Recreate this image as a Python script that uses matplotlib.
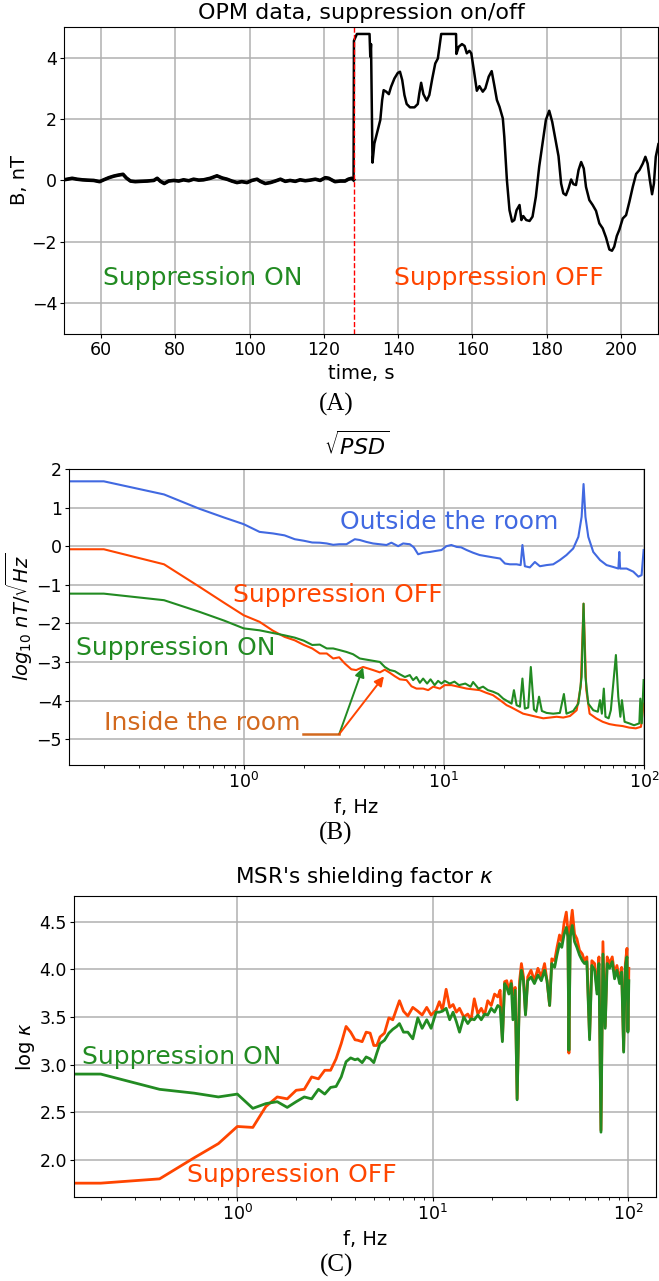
import numpy as np
import matplotlib
matplotlib.use("Agg")
import matplotlib.pyplot as plt

# --- (A) OPM trace, suppression on then off ---
time_s = [50.0, 50.9, 52.2, 53.5, 54.9, 56.2, 58.0, 59.6, 60.7, 62.1, 63.4, 64.5, 65.9, 66.8,
          67.9, 69.2, 70.6, 72.4, 74.2, 75.1, 76.0, 77.0, 78.2, 79.6, 80.9, 82.2, 83.6, 84.9,
          86.3, 87.6, 89.4, 91.2, 92.6, 93.9, 95.2, 96.6, 97.9, 99.3, 100.6, 102.0, 102.9,
          104.2, 105.6, 106.9, 108.3, 109.6, 110.9, 112.3, 113.6, 115.0, 116.3, 117.7, 119.0,
          120.4, 121.3, 122.2, 123.0, 124.4, 125.7, 126.6, 127.5, 128.0,
          128.1, 128.9, 132.3, 132.5, 132.7, 133.1, 133.6, 134.5, 135.2, 135.7, 136.1, 136.8,
          137.5, 138.1, 139.0, 139.9, 140.5, 141.1, 141.7, 142.3, 143.2, 144.4, 145.3, 145.7,
          146.2, 146.8, 147.7, 148.4, 149.2, 150.0, 150.7, 151.6, 155.6, 155.7, 156.3, 157.2,
          157.9, 158.5, 159.2, 159.7, 160.4, 161.2, 161.9, 162.8, 163.5, 164.4, 165.2, 165.9,
          166.6, 167.3, 168.2, 168.6, 169.3, 170.0, 170.7, 171.3, 171.9, 172.7, 173.2, 173.7,
          174.5, 175.4, 176.2, 177.1, 178.0, 178.9, 179.8, 180.7, 181.5, 182.4, 183.2, 183.9,
          184.5, 185.2, 185.9, 186.6, 187.2, 187.9, 188.6, 189.3, 190.0, 190.6, 191.5, 192.4,
          193.3, 194.2, 195.1, 196.0, 196.9, 197.6, 198.2, 198.9, 199.6, 200.5, 201.4, 202.3,
          203.2, 204.1, 205.0, 205.9, 206.6, 207.2, 207.8, 208.4, 208.9, 209.4, 210.1]
field_nT = [0.02, 0.04, 0.07, 0.04, 0.02, 0.01, 0.0, -0.04, 0.02, 0.09, 0.14, 0.17, 0.2, 0.08,
            -0.02, -0.04, -0.03, -0.02, 0.0, 0.07, -0.03, -0.1, -0.02, 0.0, -0.02, 0.02, -0.01,
            0.04, 0.01, 0.02, 0.07, 0.15, 0.08, 0.04, -0.02, -0.07, -0.04, -0.07, 0.0, 0.04,
            -0.03, -0.1, -0.07, -0.02, 0.04, -0.03, 0.0, -0.03, 0.02, -0.01, 0.01, 0.04, 0.0,
            0.09, 0.07, 0.01, -0.04, -0.02, -0.02, 0.04, 0.07, 0.02,
            4.55, 4.77, 4.77, 4.03, 4.44, 0.58, 1.2, 1.64, 1.97, 2.62, 2.94, 2.89,
            2.81, 3.05, 3.32, 3.5, 3.54, 3.27, 2.78, 2.49, 2.38, 2.38, 2.49, 2.83,
            3.18, 2.81, 2.6, 2.78, 3.32, 3.81, 3.97, 4.77, 4.77, 4.12, 4.35, 4.44,
            4.38, 4.14, 4.22, 4.14, 3.59, 2.92, 3.07, 2.89, 3.0, 3.38, 3.56, 3.1,
            2.62, 2.4, 2.02, 1.42, 0.01, -0.97, -1.34, -1.29, -0.97, -0.8, -1.29, -1.16,
            -1.29, -1.32, -1.18, -0.53, 0.45, 1.2, 1.97, 2.27, 1.91, 1.31, 0.79, -0.1,
            -0.42, -0.48, -0.26, 0.03, -0.12, -0.15, 0.34, 0.6, 0.39, -0.21, -0.64, -0.8,
            -0.99, -1.4, -1.56, -1.86, -2.25, -2.29, -2.16, -1.81, -1.6, -1.24, -1.13, -0.69,
            -0.21, 0.21, 0.34, 0.55, 0.77, 0.55, 0.01, -0.45, -0.1, 0.77, 1.18]
switch_time = 128

# --- (B) sqrt(PSD), log10 nT/sqrt(Hz) ---
f_out = [0.1, 0.2, 0.4, 0.6, 0.8, 1.0, 1.2, 1.4, 1.6, 1.8, 2.0, 2.2, 2.4, 2.6, 2.8, 3.0, 3.26,
         3.59, 3.8, 4.1, 4.43, 4.79, 5.17, 5.47, 5.91, 6.26, 6.76, 7.08, 7.44, 7.88, 8.51, 9.19,
         9.73, 10.3, 10.9, 11.6, 12.2, 13.0, 14.0, 15.1, 16.3, 17.6, 19.1, 20.2, 21.4, 23.1,
         24.2, 24.7, 25.4, 26.9, 28.5, 30.2, 32.6, 35.2, 38.0, 41.0, 44.3, 47.0, 48.8, 49.9,
         51.0, 52.7, 55.8, 60.3, 65.0, 70.3, 74.5, 75.3, 76.0, 81.9, 88.4, 93.8, 97.3, 99.6]
psd_out = [1.68, 1.68, 1.34, 0.97, 0.74, 0.57, 0.37, 0.33, 0.28, 0.18, 0.14, 0.095, 0.09, 0.07,
           0.035, 0.05, 0.05, 0.18, 0.16, 0.11, 0.07, 0.05, 0.03, 0.09, 0.0, 0.07, 0.05, -0.03,
           -0.21, -0.17, -0.15, -0.12, -0.10, 0.0, 0.03, -0.02, -0.03, -0.10, -0.17, -0.23,
           -0.26, -0.29, -0.32, -0.45, -0.47, -0.47, -0.49, 0.03, -0.52, -0.55, -0.41, -0.52,
           -0.49, -0.47, -0.36, -0.23, -0.06, 0.24, 0.76, 1.61, 0.76, 0.24, -0.15, -0.36,
           -0.49, -0.54, -0.58, -0.15, -0.58, -0.58, -0.66, -0.79, -0.75, -0.10]

f_off = [0.1, 0.2, 0.4, 0.6, 0.8, 1.0, 1.2, 1.4, 1.6, 1.8, 2.0, 2.2, 2.4, 2.6, 2.8, 3.0, 3.2,
         3.45, 3.65, 3.95, 4.19, 4.43, 4.79, 5.07, 5.37, 5.69, 6.03, 6.51, 6.89, 7.3, 7.88,
         8.35, 8.85, 9.55, 10.1, 10.9, 11.8, 13.0, 14.0, 15.1, 16.3, 17.6, 19.1, 20.6, 21.8,
         23.1, 24.9, 26.9, 29.0, 31.4, 33.9, 36.6, 39.5, 42.7, 46.1, 48.3, 49.9, 51.5, 53.5,
         57.7, 62.2, 67.2, 72.4, 78.1, 84.3, 91.0, 96.6, 99.6]
psd_off = [-0.08, -0.08, -0.47, -1.05, -1.47, -1.79, -1.96, -2.19, -2.35, -2.44, -2.56, -2.65,
           -2.78, -2.78, -2.91, -2.88, -3.04, -3.19, -3.21, -3.13, -3.17, -3.21, -3.27, -3.20,
           -3.28, -3.37, -3.45, -3.47, -3.63, -3.69, -3.69, -3.73, -3.64, -3.69, -3.60, -3.60,
           -3.64, -3.69, -3.71, -3.73, -3.80, -3.86, -3.99, -4.12, -4.18, -4.25, -4.34, -4.38,
           -4.42, -4.46, -4.44, -4.42, -4.44, -4.40, -4.25, -3.64, -1.49, -3.73, -4.34, -4.46,
           -4.55, -4.61, -4.64, -4.66, -4.70, -4.72, -4.68, -4.08]

f_on = [0.1, 0.2, 0.4, 0.6, 0.8, 1.0, 1.2, 1.4, 1.6, 1.8, 2.0, 2.2, 2.4, 2.6, 2.8, 3.0, 3.26,
        3.52, 3.8, 4.1, 4.43, 4.79, 5.07, 5.37, 5.69, 6.03, 6.39, 6.76, 7.02, 7.3, 7.59, 7.88,
        8.25, 8.58, 9.0, 9.36, 9.73, 10.1, 10.7, 11.3, 11.9, 12.8, 13.6, 14.0, 14.9, 15.7,
        16.6, 17.6, 18.7, 19.8, 21.0, 21.8, 22.4, 23.1, 24.0, 24.7, 25.4, 26.4, 27.2, 28.2,
        29.0, 29.9, 30.9, 32.6, 35.2, 38.0, 39.8, 41.0, 44.3, 47.0, 48.8, 49.9, 51.0, 52.7,
        55.8, 58.8, 60.3, 61.6, 63.0, 64.2, 66.6, 68.3, 72.4, 74.4, 76.2, 77.6, 80.0, 84.3,
        89.2, 94.8, 95.9, 97.5, 99.6]
psd_on = [-1.23, -1.23, -1.40, -1.70, -1.93, -2.13, -2.18, -2.25, -2.31, -2.37, -2.45, -2.56,
          -2.55, -2.65, -2.65, -2.69, -2.74, -2.80, -2.91, -2.94, -2.97, -3.00, -3.13, -3.21,
          -3.24, -3.32, -3.39, -3.34, -3.47, -3.39, -3.54, -3.43, -3.56, -3.45, -3.60, -3.49,
          -3.56, -3.49, -3.56, -3.51, -3.60, -3.56, -3.64, -3.52, -3.69, -3.64, -3.73, -3.77,
          -3.83, -3.95, -4.03, -4.08, -3.73, -4.12, -4.16, -3.43, -4.21, -4.18, -3.13, -4.23,
          -4.29, -3.90, -4.27, -4.32, -4.34, -4.32, -3.83, -4.34, -4.27, -4.08, -3.39, -1.49,
          -3.39, -4.08, -4.25, -4.29, -3.99, -4.34, -3.69, -4.42, -4.46, -4.25, -2.82, -3.90,
          -4.42, -3.99, -4.55, -4.59, -4.64, -4.59, -3.95, -4.59, -3.47]

# --- (C) shielding factor, log kappa ---
f_kappa = [0.1, 0.2, 0.4, 0.6, 0.8, 1.0, 1.2, 1.4, 1.6, 1.8, 2.0, 2.2, 2.4, 2.6, 2.8, 3.0, 3.2,
           3.4, 3.6, 3.8, 4.0, 4.13, 4.35, 4.56, 4.78, 4.99, 5.17, 5.37, 5.66, 5.96, 6.24, 6.54,
           6.75, 7.08, 7.45, 7.9, 8.38, 8.82, 9.31, 9.8, 10.4, 10.8, 11.2, 11.7, 12.2, 12.7,
           13.2, 13.7, 14.4, 15.1, 15.7, 16.3, 17.0, 17.7, 18.4, 19.1, 19.9, 20.7, 21.5, 22.1,
           22.7, 23.3, 23.9, 24.5, 25.2, 25.7, 26.4, 27.0, 27.8, 28.4, 29.1, 29.8, 30.6, 31.8,
           33.1, 34.5, 35.9, 37.3, 38.4, 39.6, 40.6, 42.0, 43.2, 44.5, 45.7, 46.9, 48.2, 49.1,
           49.7, 50.5, 51.7, 53.1, 54.6, 56.3, 58.2, 59.7, 61.4, 63.4, 65.1, 67.3, 69.2, 70.8,
           72.5, 74.2, 76.2, 78.0, 80.2, 82.8, 85.1, 87.5, 90.3, 92.5, 94.7, 96.6, 98.5, 99.6,
           100.7]
kappa_off = [1.755, 1.755, 1.80, 2.02, 2.17, 2.35, 2.34, 2.56, 2.66, 2.64, 2.73, 2.74, 2.87,
             2.85, 2.94, 2.94, 3.06, 3.22, 3.40, 3.34, 3.26,
             3.255, 3.24, 3.34, 3.33, 3.20, 3.20, 3.29, 3.33, 3.49, 3.47, 3.59, 3.67, 3.56,
             3.51, 3.60, 3.56, 3.52, 3.60, 3.52, 3.57, 3.66, 3.57, 3.79, 3.60, 3.63, 3.55, 3.59,
             3.50, 3.53, 3.47, 3.69, 3.53, 3.59, 3.52, 3.67, 3.62, 3.74, 3.71, 3.78,
             3.26, 3.87, 3.88, 3.78, 3.88, 3.73, 3.81, 2.64, 3.88, 4.06, 3.92, 3.53, 3.92, 3.99,
             3.88, 4.01, 3.92, 4.06, 3.88, 3.62, 4.11, 4.09, 4.23, 4.36, 4.29, 4.48, 4.60, 4.41,
             3.12, 4.44, 4.62, 4.37, 4.32, 4.20, 4.16, 4.09, 4.13, 3.29, 4.09, 4.06, 3.78, 4.13,
             2.31, 4.29, 3.40, 4.13, 4.06, 4.13, 3.95, 4.04, 3.88, 4.02, 3.15, 4.06, 4.22, 3.36,
             4.01]
kappa_on = [2.90, 2.90, 2.74, 2.70, 2.66, 2.69, 2.54, 2.59, 2.61, 2.55, 2.61, 2.66, 2.64, 2.74,
            2.69, 2.76, 2.77, 2.87, 3.03, 3.07, 3.05,
            3.06, 3.02, 3.08, 3.06, 3.02, 3.12, 3.22, 3.255, 3.33, 3.37, 3.40, 3.43, 3.34, 3.34,
            3.27, 3.49, 3.38, 3.47, 3.38, 3.55, 3.55, 3.56, 3.59, 3.47, 3.55, 3.45, 3.34, 3.50,
            3.43, 3.48, 3.47, 3.52, 3.47, 3.53, 3.52, 3.59, 3.55, 3.62, 3.60,
            3.24, 3.85, 3.81, 3.74, 3.85, 3.47, 3.78, 2.63, 3.81, 3.99, 3.88, 3.52, 3.88, 3.92,
            3.85, 3.94, 3.88, 3.99, 3.88, 3.62, 4.06, 4.02, 4.15, 4.27, 4.23, 4.36, 4.44, 4.34,
            3.15, 4.34, 4.46, 4.29, 4.23, 4.15, 4.09, 4.06, 4.08, 3.26, 4.04, 3.99, 3.74, 4.06,
            2.29, 4.16, 3.38, 4.06, 4.01, 4.08, 3.90, 3.99, 3.85, 3.97, 3.13, 4.02, 4.13, 3.34,
            3.88]

GREEN = 'forestgreen'
RED = 'orangered'
BLUE = 'royalblue'
TXT = 18

plt.rcParams['xtick.labelsize'] = 12.5
plt.rcParams['ytick.labelsize'] = 12.5
plt.rcParams['xtick.major.size'] = 3
plt.rcParams['ytick.major.size'] = 3
plt.rcParams['xtick.minor.size'] = 2
plt.rcParams['xtick.major.pad'] = 2
plt.rcParams['ytick.major.pad'] = 2
plt.rcParams['xtick.minor.pad'] = 2
plt.rcParams['axes.labelsize'] = 14
plt.rcParams['axes.titlesize'] = 16

fig = plt.figure(figsize=(6.59, 12.81), dpi=100)

# (A)
n_on = sum(1 for t in time_s if t <= switch_time)
ax1 = fig.add_axes([0.0971, 0.7393, 0.9014, 0.2397])
ax1.plot(time_s, field_nT, color='black', lw=1.8)
ax1.plot(time_s[:n_on], field_nT[:n_on], color='black', lw=2.6)  # noisy part looks thicker
ax1.axvline(switch_time, color='red', ls='--', lw=1)
ax1.set_xlim(50, 210)
ax1.set_ylim(-5, 5)
ax1.set_yticks([-4, -2, 0, 2, 4])
ax1.grid(True, lw=1.1)
ax1.set_xlabel('time, s')
ax1.set_ylabel('B, nT', labelpad=2)
ax1.set_title('OPM data, suppression on/off')
ax1.text(60.4, -3.18, 'Suppression ON', color=GREEN, fontsize=TXT, va='center')
ax1.text(139, -3.18, 'Suppression OFF', color=RED, fontsize=TXT, va='center')

# (B)
ax2 = fig.add_axes([0.1047, 0.4028, 0.8725, 0.2311])
ax2.plot(f_out, psd_out, color=BLUE, lw=1.5)
ax2.plot(f_off, psd_off, color=RED, lw=1.5)
ax2.plot(f_on, psd_on, color=GREEN, lw=1.5)
ax2.set_xscale('log')
ax2.set_xlim(0.134, 100)
ax2.set_ylim(-5.67, 2)
ax2.set_yticks(range(-5, 3))
ax2.grid(True, lw=1.1)
ax2.set_xlabel('f, Hz')
ax2.set_ylabel(r'$log_{10}\ nT/\sqrt{Hz}$', labelpad=1)
ax2.set_title(r'$\sqrt{PSD}$', pad=10)
ax2.text(3.02, 0.63, 'Outside the room', color=BLUE, fontsize=TXT, va='center')
ax2.text(0.88, -1.27, 'Suppression OFF', color=RED, fontsize=TXT, va='center')
ax2.text(0.146, -2.65, 'Suppression ON', color=GREEN, fontsize=TXT, va='center')
ax2.text(0.2, -4.57, 'Inside the room', color='chocolate', fontsize=TXT, va='center')
ax2.plot([1.97, 3.0], [-4.87, -4.87], color='chocolate', lw=1.8)
ax2.annotate('', xy=(3.95, -3.14), xytext=(3.0, -4.87),
             arrowprops=dict(arrowstyle='-|>', color=GREEN, lw=1.4, mutation_scale=14,
                             shrinkA=0, shrinkB=0))
ax2.annotate('', xy=(5.02, -3.37), xytext=(3.0, -4.87),
             arrowprops=dict(arrowstyle='-|>', color=RED, lw=1.4, mutation_scale=14,
                             shrinkA=0, shrinkB=0))

# (C)
ax3 = fig.add_axes([0.1123, 0.0656, 0.8832, 0.235])
ax3.plot(f_kappa, kappa_off, color=RED, lw=2)
ax3.plot(f_kappa, kappa_on, color=GREEN, lw=2)
ax3.set_xscale('log')
ax3.set_xlim(0.146, 138.7)
ax3.set_ylim(1.61, 4.77)
ax3.set_yticks([2.0, 2.5, 3.0, 3.5, 4.0, 4.5])
ax3.grid(True, lw=1.1)
ax3.set_xlabel('f, Hz')
ax3.set_ylabel(r'log $\kappa$', labelpad=2)
ax3.set_title(r"MSR's shielding factor $\kappa$", fontsize=15.5, pad=9)
ax3.text(0.161, 3.08, 'Suppression ON', color=GREEN, fontsize=TXT, va='center')
ax3.text(0.555, 1.84, 'Suppression OFF', color=RED, fontsize=TXT, va='center')

for lab, y in [('(A)', 0.6846), ('(B)', 0.3497), ('(C)', 0.0125)]:
    fig.text(0.51, y, lab, ha='center', va='center', fontsize=18, family='Liberation Serif')

fig.savefig('out.png', dpi=100)
